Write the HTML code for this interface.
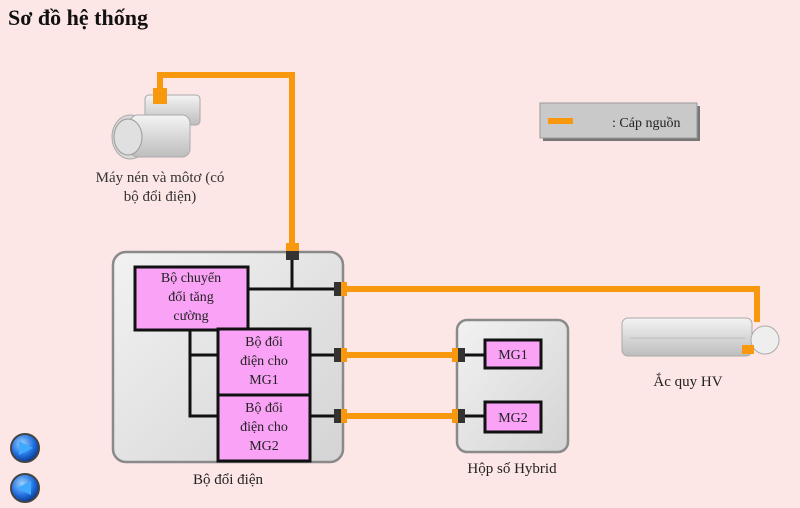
<!DOCTYPE html>
<html><head><meta charset="utf-8"><style>
html,body{margin:0;padding:0;background:#fde6e6;}
svg{display:block;font-family:"Liberation Serif",serif;}
</style></head><body>
<svg width="800" height="508" viewBox="0 0 800 508" xmlns="http://www.w3.org/2000/svg">
<defs>
<linearGradient id="gb" x1="0" y1="0" x2="1" y2="1"><stop offset="0" stop-color="#f2f2f2"/><stop offset="1" stop-color="#d4d4d4"/></linearGradient>
<radialGradient id="bt" cx="0.4" cy="0.35" r="0.7"><stop offset="0" stop-color="#9fd0ff"/><stop offset="0.6" stop-color="#1e6fe0"/><stop offset="1" stop-color="#0a2f80"/></radialGradient>
<linearGradient id="mt" x1="0" y1="0" x2="0" y2="1"><stop offset="0" stop-color="#f4f4f4"/><stop offset="1" stop-color="#bdbdbd"/></linearGradient>
</defs>
<rect width="800" height="508" fill="#fde6e6"/>
<text x="8" y="25" font-size="22" font-weight="bold" fill="#111">Sơ đồ hệ thống</text>

<!-- orange cables -->
<g stroke="#f7980f" stroke-width="6" fill="none">
<polyline points="160,92 160,75 292,75 292,246"/>
<polyline points="346,289 757,289 757,322"/>
<line x1="346" y1="355" x2="452" y2="355"/>
<line x1="346" y1="416" x2="452" y2="416"/>
<line x1="548" y1="121" x2="573" y2="121"/>
</g>

<!-- motor -->
<g>
<rect x="145" y="95" width="55" height="30" rx="4" fill="url(#mt)" stroke="#aaa"/>
<ellipse cx="130" cy="137" rx="18" ry="22" fill="#d8d8d8" stroke="#aaa"/>
<rect x="130" y="115" width="60" height="42" rx="8" fill="url(#mt)" stroke="#aaa"/>
<ellipse cx="128" cy="137" rx="14" ry="18" fill="#e0e0e0" stroke="#999"/>
<rect x="153" y="88" width="14" height="16" fill="#f7980f"/>
</g>
<text x="160" y="182" font-size="15" text-anchor="middle" fill="#333">Máy nén và môtơ (có</text>
<text x="160" y="201" font-size="15" text-anchor="middle" fill="#333">bộ đổi điện)</text>

<!-- legend -->
<rect x="543" y="106" width="157" height="35" fill="#777"/>
<rect x="540" y="103" width="157" height="35" fill="#c9c9c9" stroke="#999"/>
<line x1="548" y1="121" x2="573" y2="121" stroke="#f7980f" stroke-width="6"/>
<text x="612" y="127" font-size="14" fill="#222">: Cáp nguồn</text>

<!-- battery -->
<g>
<rect x="622" y="318" width="130" height="38" rx="6" fill="url(#mt)" stroke="#aaa"/>
<line x1="630" y1="338" x2="745" y2="338" stroke="#bbb"/>
<circle cx="765" cy="340" r="14" fill="#eee" stroke="#aaa"/>
<rect x="742" y="345" width="12" height="9" fill="#f7980f"/>
</g>
<text x="688" y="386" font-size="15" text-anchor="middle" fill="#222">Ắc quy HV</text>

<!-- inverter box -->
<rect x="113" y="252" width="230" height="210" rx="13" fill="url(#gb)" stroke="#8a8a8a" stroke-width="2.5"/>
<!-- hybrid box -->
<rect x="457" y="320" width="111" height="132" rx="10" fill="url(#gb)" stroke="#8a8a8a" stroke-width="2.5"/>

<!-- black wires -->
<g stroke="#111" stroke-width="3" fill="none">
<line x1="248" y1="289" x2="334" y2="289"/>
<line x1="292" y1="252" x2="292" y2="289"/>
<polyline points="190,330 190,416 218,416"/>
<line x1="190" y1="355" x2="218" y2="355"/>
<line x1="310" y1="355" x2="334" y2="355"/>
<line x1="310" y1="416" x2="334" y2="416"/>
<line x1="465" y1="355" x2="485" y2="355"/>
<line x1="465" y1="416" x2="485" y2="416"/>
</g>

<!-- connectors -->
<g>
<rect x="286" y="243" width="13" height="17" fill="#333"/><rect x="286" y="243" width="13" height="8" fill="#f7980f"/>
<rect x="334" y="282" width="13" height="14" fill="#333"/><rect x="341" y="282" width="6" height="14" fill="#f7980f"/>
<rect x="334" y="348" width="13" height="14" fill="#333"/><rect x="341" y="348" width="6" height="14" fill="#f7980f"/>
<rect x="334" y="409" width="13" height="14" fill="#333"/><rect x="341" y="409" width="6" height="14" fill="#f7980f"/>
<rect x="452" y="348" width="13" height="14" fill="#333"/><rect x="452" y="348" width="6" height="14" fill="#f7980f"/>
<rect x="452" y="409" width="13" height="14" fill="#333"/><rect x="452" y="409" width="6" height="14" fill="#f7980f"/>
</g>

<!-- pink boxes -->
<g fill="#f9a2f6" stroke="#111" stroke-width="3">
<rect x="135" y="267" width="113" height="63"/>
<rect x="218" y="329" width="92" height="66"/>
<rect x="218" y="395" width="92" height="66"/>
<rect x="485" y="340" width="56" height="28"/>
<rect x="485" y="402" width="56" height="30"/>
</g>
<g font-size="14" fill="#222" text-anchor="middle">
<text x="191" y="282">Bộ chuyển</text>
<text x="191" y="301">đổi tăng</text>
<text x="191" y="320">cường</text>
<text x="264" y="346">Bộ đổi</text>
<text x="264" y="365">điện cho</text>
<text x="264" y="384">MG1</text>
<text x="264" y="412">Bộ đổi</text>
<text x="264" y="431">điện cho</text>
<text x="264" y="450">MG2</text>
<text x="513" y="359">MG1</text>
<text x="513" y="422">MG2</text>
</g>
<text x="228" y="484" font-size="15" text-anchor="middle" fill="#222">Bộ đổi điện</text>
<text x="512" y="473" font-size="15" text-anchor="middle" fill="#222">Hộp số Hybrid</text>

<!-- nav buttons -->
<g>
<circle cx="25" cy="448" r="14" fill="url(#bt)" stroke="#444" stroke-width="2"/>
<polygon points="19,441 33,448 19,455" fill="#3fa9ff"/>
<circle cx="25" cy="488" r="14" fill="url(#bt)" stroke="#444" stroke-width="2"/>
<polygon points="31,481 17,488 31,495" fill="#3fa9ff"/>
</g>
</svg>
</body></html>
